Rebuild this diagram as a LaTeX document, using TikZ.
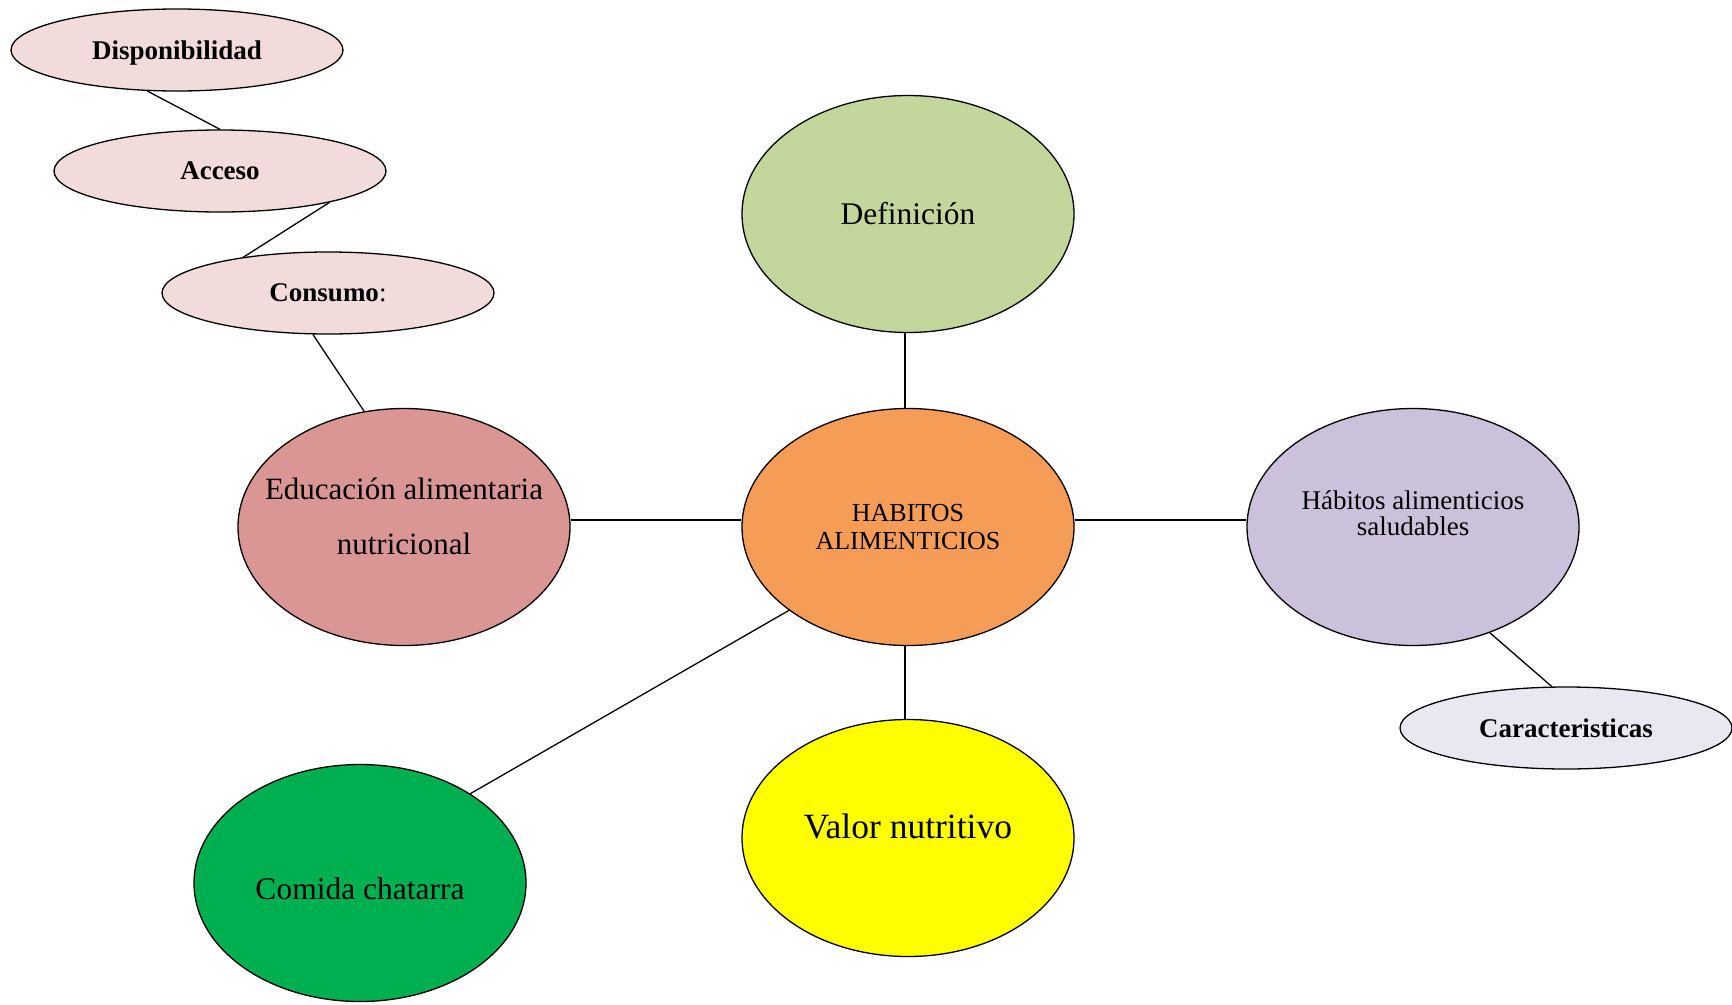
\documentclass[tikz,border=0pt]{standalone}
\usepackage{fontspec}
\setmainfont{Liberation Serif}
\usetikzlibrary{shapes.geometric}

\definecolor{pinkfill}{HTML}{F2DCDB}
\definecolor{rosefill}{HTML}{D99694}
\definecolor{orangefill}{HTML}{F59D56}
\definecolor{greenfill}{HTML}{C3D69B}
\definecolor{lilacfill}{HTML}{CCC1DA}
\definecolor{palelilac}{HTML}{EBE7F0}
\definecolor{junkgreen}{HTML}{00B050}
\definecolor{brightyellow}{HTML}{FFFF00}

\tikzset{
  bubble/.style={ellipse, draw=black, line width=1.3pt, inner sep=0pt,
                 minimum width=332pt, minimum height=237pt, align=center},
  small/.style={bubble, minimum height=82pt, fill=pinkfill, text depth=0pt,
                font=\fontsize{27}{32}\selectfont\bfseries},
  txt/.style={inner sep=0pt, align=center},
  link/.style={draw=black, line width=1.3pt}
}

\begin{document}
\begin{tikzpicture}[x=1pt, y=-1pt]
  \useasboundingbox (0,0) rectangle (1732,1004);

  % central topic
  \node[bubble, fill=orangefill, font=\fontsize{26}{28}\selectfont]
    (hab) at (908,527) {HABITOS\\ALIMENTICIOS};

  % main branches
  \node[bubble, fill=greenfill, font=\fontsize{31.5}{36}\selectfont]
    (def) at (908,214) {Definición};
  \node[bubble, fill=rosefill] (educ) at (404,527) {};
  \node[txt, font=\fontsize{31}{55}\selectfont]
    (educ-t) at ([yshift=11pt]educ.center) {Educación alimentaria\\nutricional};
  \node[bubble, fill=lilacfill] (sal) at (1413,527) {};
  \node[txt, font=\fontsize{27}{26}\selectfont]
    (sal-t) at ([yshift=14pt]sal.center) {Hábitos alimenticios\\saludables};
  \node[bubble, fill=brightyellow] (val) at (908,838) {};
  \node[txt, font=\fontsize{35.5}{40}\selectfont]
    (val-t) at ([yshift=12pt]val.center) {Valor nutritivo};
  \node[bubble, fill=junkgreen] (com) at (360,883) {};
  \node[txt, font=\fontsize{31.5}{36}\selectfont]
    (com-t) at ([yshift=-6pt]com.center) {Comida chatarra};

  % food security chain
  \node[small] (disp) at (177,50) {Disponibilidad};
  \node[small] (acc) at (220,171) {Acceso};
  \node[small] (cons) at (328,293) {Consumo\mdseries:};

  % characteristics
  \node[small, fill=palelilac] (car) at (1566,728) {Caracteristicas};

  % connectors
  \draw[link] ([xshift=-3pt]def.south) -- ([xshift=-3pt]hab.north);
  \draw[link] ([xshift=-3pt]hab.south) -- ([xshift=-3pt]val.north);
  \draw[link] ([yshift=7pt]educ.east) -- ([yshift=7pt]hab.west);
  \draw[link] ([yshift=7pt]hab.east) -- ([yshift=7pt]sal.west);
  \draw[link] (hab.-145) -- (com.39);
  \draw[link] (sal.-54) -- (car.109);
  \draw[link] (disp.-126) -- (acc.90);
  \draw[link] (acc.-16) -- (cons.157);
  \draw[link] (cons.-110) -- (educ.109);
\end{tikzpicture}
\end{document}
